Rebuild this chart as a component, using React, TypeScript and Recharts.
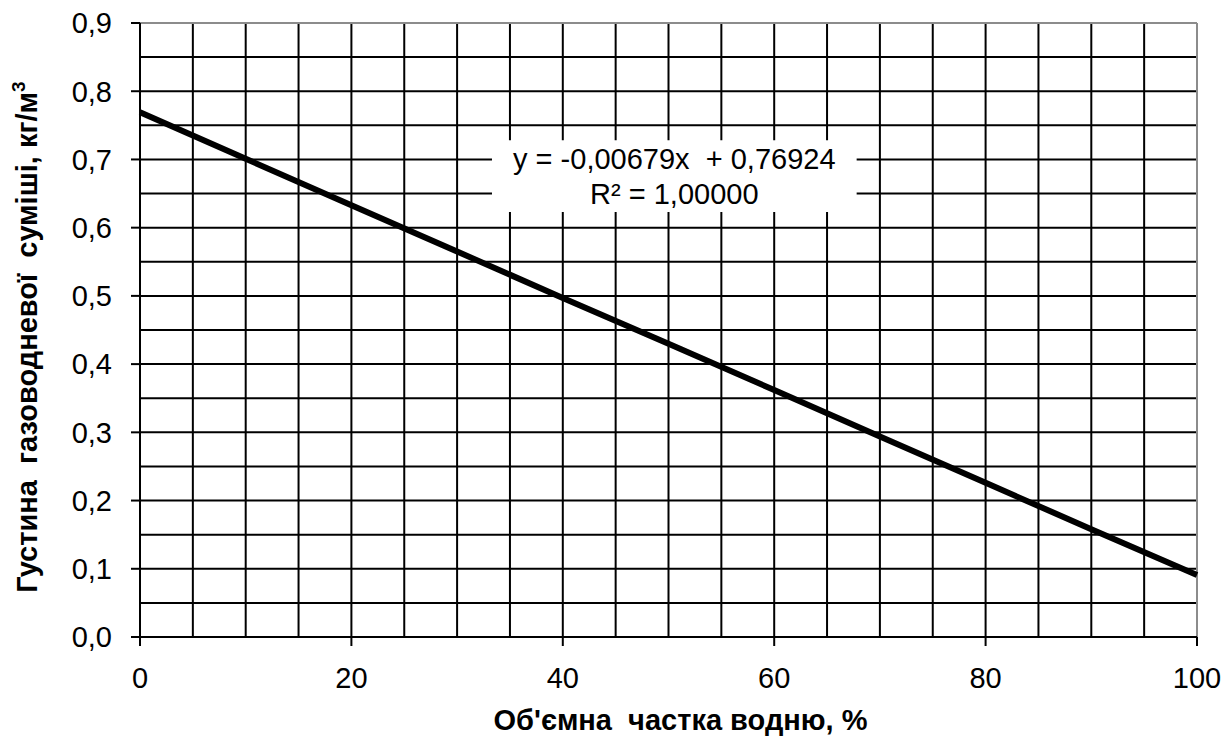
import React from "react";
import {
  CartesianGrid,
  Label,
  Line,
  LineChart,
  ReferenceArea,
  ReferenceLine,
  XAxis,
  YAxis,
} from "recharts";

// ============================================
// Data
// ============================================

const waterShare = [0, 10, 20, 30, 40, 50, 60, 70, 80, 90, 100];
const density = [0.769, 0.701, 0.633, 0.565, 0.497, 0.43, 0.362, 0.294, 0.226, 0.158, 0.091];

const xTicks = [0, 20, 40, 60, 80, 100];
const yTicks = [0, 0.1, 0.2, 0.3, 0.4, 0.5, 0.6, 0.7, 0.8, 0.9];

// grid every 5 % and every 0.05
const gridX = [0, 5, 10, 15, 20, 25, 30, 35, 40, 45, 50, 55, 60, 65, 70, 75, 80, 85, 90, 95, 100];
const gridY = [
  0, 0.05, 0.1, 0.15, 0.2, 0.25, 0.3, 0.35, 0.4, 0.45, 0.5, 0.55, 0.6, 0.65, 0.7, 0.75, 0.8,
  0.85, 0.9,
];

const equationLines = ["y = -0,00679x  + 0,76924", "R² = 1,00000"];

const xTitle = "Об'ємна  частка водню, %";
const yTitle = "Густина  газоводневої  суміші, кг/м";

const data = waterShare.map((x, i) => ({ x, y: density[i] }));

// ============================================
// Styles
// ============================================

const FONT = "Liberation Sans, Arial, sans-serif";
const W = 1228;
const H = 743;

const fmtY = (v: number) => v.toFixed(1).replace(".", ",");

function EquationBox(props: any) {
  const vb = props.viewBox;
  const cx = vb.x + vb.width / 2;
  const cy = vb.y + vb.height / 2;
  return (
    <g>
      {equationLines.map((t, i) => (
        <text
          key={t}
          x={cx}
          y={cy + (i - 0.5) * 35}
          dy="0.35em"
          textAnchor="middle"
          fontFamily={FONT}
          fontSize={29}
          fill="#000"
          style={{ whiteSpace: "pre" }}
        >
          {t}
        </text>
      ))}
    </g>
  );
}

function YTitle(props: any) {
  const vb = props.viewBox;
  const x = 27;
  const y = vb.y + vb.height / 2 + 7;
  return (
    <text
      x={x}
      y={y}
      transform={`rotate(-90 ${x} ${y})`}
      textAnchor="middle"
      dy="0.35em"
      fontFamily={FONT}
      fontSize={29}
      fontWeight="bold"
      fill="#000"
      style={{ whiteSpace: "pre" }}
    >
      {yTitle}
      <tspan fontSize={19} dy={-12}>
        3
      </tspan>
    </text>
  );
}

function XTitle(props: any) {
  const vb = props.viewBox;
  return (
    <text
      x={vb.x + vb.width / 2 + 12}
      y={720}
      textAnchor="middle"
      dy="0.35em"
      fontFamily={FONT}
      fontSize={29}
      fontWeight="bold"
      fill="#000"
      style={{ whiteSpace: "pre" }}
    >
      {xTitle}
    </text>
  );
}

export default function App() {
  return (
    <div style={{ position: "absolute", left: 0, top: 0, width: W, height: H, background: "#fff" }}>
      <LineChart
        width={W}
        height={H}
        data={data}
        margin={{ top: 23, right: 31, left: 0, bottom: 46 }}
      >
        <XAxis
          xAxisId="grid"
          dataKey="x"
          type="number"
          domain={[0, 100]}
          ticks={gridX}
          allowDataOverflow
          hide
        />
        <YAxis
          yAxisId="grid"
          dataKey="y"
          type="number"
          domain={[0, 0.9]}
          ticks={gridY}
          allowDataOverflow
          hide
        />
        <CartesianGrid
          xAxisId="grid"
          yAxisId="grid"
          stroke="#000"
          strokeWidth={2}
          strokeOpacity={1}
        />

        <ReferenceLine y={0.9} stroke="#8c8c8c" strokeWidth={2} />
        <ReferenceLine x={100} stroke="#8c8c8c" strokeWidth={2} />

        <ReferenceArea
          x1={33.3}
          x2={67.8}
          y1={0.623}
          y2={0.728}
          fill="#fff"
          fillOpacity={1}
          stroke="none"
          ifOverflow="visible"
          label={<EquationBox />}
        />

        <XAxis
          dataKey="x"
          type="number"
          domain={[0, 100]}
          ticks={xTicks}
          height={60}
          tickSize={9}
          tickMargin={21}
          axisLine={{ stroke: "#000", strokeWidth: 2 }}
          tickLine={{ stroke: "#000", strokeWidth: 2 }}
          tick={{ fill: "#000", fontSize: 29, fontFamily: FONT }}
        >
          <Label content={<XTitle />} />
        </XAxis>
        <YAxis
          type="number"
          domain={[0, 0.9]}
          ticks={yTicks}
          width={140}
          tickSize={9}
          tickMargin={19}
          tickFormatter={fmtY}
          axisLine={{ stroke: "#000", strokeWidth: 2 }}
          tickLine={{ stroke: "#000", strokeWidth: 2 }}
          tick={{ fill: "#000", fontSize: 29, fontFamily: FONT }}
        >
          <Label content={<YTitle />} />
        </YAxis>

        <Line
          type="linear"
          dataKey="y"
          stroke="#000"
          strokeWidth={6}
          dot={false}
          activeDot={false}
          isAnimationActive={false}
        />
      </LineChart>
    </div>
  );
}
